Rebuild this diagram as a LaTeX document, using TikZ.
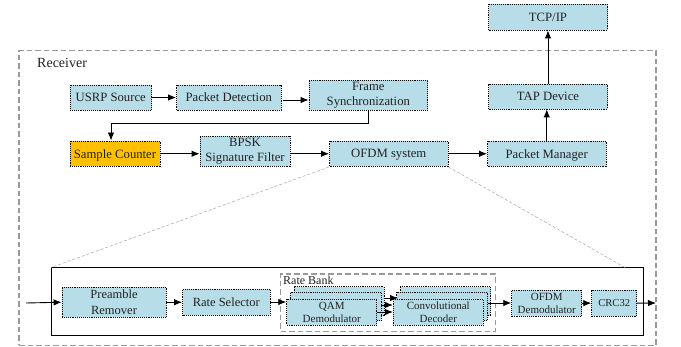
\documentclass[tikz,border=0pt]{standalone}
\usepackage{fontspec}
\setmainfont{Liberation Serif}
\usetikzlibrary{arrows.meta}
\definecolor{boxfill}{HTML}{B7DDE8}
\definecolor{ambr}{HTML}{FFC000}
\definecolor{ink}{HTML}{222222}
\tikzset{
  box/.style={draw=black,fill=boxfill,densely dotted,line width=0.9pt,inner sep=0pt,align=center,text=ink,font=\fontsize{12.7}{15.3}\selectfont},
  onebox/.style={box,text depth=0pt},
  smallbox/.style={box,font=\fontsize{11}{13}\selectfont},
  flow/.style={draw=black,line width=0.9pt,-{Latex[length=8pt,width=6.5pt]}},
  frame/.style={draw=gray!80,line width=1.1pt,dash pattern=on 5.5pt off 3pt},
  zoomline/.style={draw=gray!70,densely dashed,line width=0.5pt},
  solidframe/.style={draw=black,line width=0.9pt},
  lbl/.style={inner sep=0pt,text=ink,font=\fontsize{12}{14}\selectfont}
}
\newcommand{\bx}[7][box]{\node[#1,minimum width={(#5-#3)*1pt},minimum height={(#6-#4)*1pt}] (#2) at ({(#3+#5)/2},{-(#4+#6)/2}) {#7};}
\begin{document}
\begin{tikzpicture}[x=1pt,y=1pt]
\useasboundingbox (0,0) rectangle (681,-347);
\fill[white] (0,0) rectangle (681,-347);
\node[frame,minimum width=637pt,minimum height=294.5pt,inner sep=0pt] (receiver) at (337.5,-198.2) {};
\node[lbl,anchor=west,font=\fontsize{14}{16}\selectfont] (recvlabel) at (37,-63) {Receiver};
\node[solidframe,minimum width=592.5pt,minimum height=68pt,inner sep=0pt] (inner) at (347.2,-301.5) {};
\coordinate (zl) at (51,-267.5);
\coordinate (zr) at (625,-267.5);
\node[frame,minimum width=214.3pt,minimum height=57.7pt,inner sep=0pt] (bank) at (387.9,-302.9) {};
\node[lbl,anchor=west] (banklabel) at (283,-280) {Rate Bank};

\bx[onebox]{usrp}{70}{85}{151.5}{110}{USRP Source}
\bx[onebox]{pd}{176.5}{85}{281}{110}{Packet Detection}
\bx{fs}{309}{80.5}{427.7}{110}{Frame\\Synchronization}
\bx[onebox,fill=ambr]{sc}{70}{141}{160}{166.5}{Sample Counter}
\bx{bpsk}{200}{136.5}{290}{166.5}{BPSK\\Signature Filter}
\bx[onebox]{ofdm}{329.5}{141}{448}{166.5}{OFDM system}
\bx[onebox]{pm}{487.5}{141}{606}{166.5}{Packet Manager}
\bx[onebox]{tap}{488.5}{84}{607.5}{109}{TAP Device}
\bx[onebox]{tcp}{488.5}{4}{607.5}{30}{TCP/IP}
\bx[box,font=\fontsize{12.5}{15.8}\selectfont]{pre}{62}{287}{166}{317.5}{Preamble\\Remover}
\bx[onebox,font=\fontsize{12.5}{15}\selectfont]{rs}{182.5}{289.5}{270}{315.5}{Rate Selector}
\bx{qamc}{294}{286.7}{384}{315.7}{}
\bx{qamb}{290}{292.3}{381}{320.7}{}
\bx[smallbox]{qam}{286.7}{299.3}{376.7}{325}{QAM\\Demodulator}
\bx{cdc}{400.7}{286.7}{490.7}{315.7}{}
\bx{cdb}{396.7}{292.3}{487.3}{320.7}{}
\bx[smallbox]{cd}{393.3}{299.3}{483.3}{325}{Convolutional\\Decoder}
\bx[smallbox]{od}{511.7}{290}{581.7}{316.3}{OFDM\\Demodulator}
\bx[onebox,font=\fontsize{10.6}{13}\selectfont]{crc}{591.7}{290}{636.7}{316.3}{CRC32}

\coordinate (in) at (26,-303);
\coordinate (out) at (656,-303);
\coordinate (fsdrop) at (368,-123.5);
\coordinate (scdrop) at (111,-123.5);
\draw[flow] (usrp.east) -- (pd.west);
\draw[flow] (283,-100) -- (fs.west |- 0,-100);
\draw[flow] (fsdrop |- fs.south) -- (fsdrop) -- (scdrop) -- (scdrop |- sc.north);
\draw[flow] (sc.east) -- (bpsk.west |- sc.east);
\draw[flow] (bpsk.east |- ofdm.west) -- (ofdm.west);
\draw[flow] (ofdm.east) -- (pm.west);
\draw[flow] (pm.north) -- (pm.north |- tap.south);
\draw[flow] (tap.north) -- (tcp.south);
\draw[flow] (in) -- (pre.west);
\draw[flow] (pre.east) -- (rs.west |- pre.east);
\draw[flow] (rs.east |- 0,-302) -- (qam.west |- 0,-302);
\draw[flow] (qamc.east |- 0,-298) -- (398,-298);
\draw[flow] (qamb.east |- 0,-305) -- (cd.west |- 0,-305);
\draw[flow] (qam.east |- 0,-312) -- (cd.west |- 0,-312);
\draw[flow] (cdb.east |- 0,-303) -- (od.west |- 0,-303);
\draw[flow] (od.east) -- (crc.west);
\draw[flow] (crc.east) -- (out);
\draw[zoomline] (ofdm.south west) -- (zl);
\draw[zoomline] (ofdm.south east) -- (zr);
\end{tikzpicture}
\end{document}
